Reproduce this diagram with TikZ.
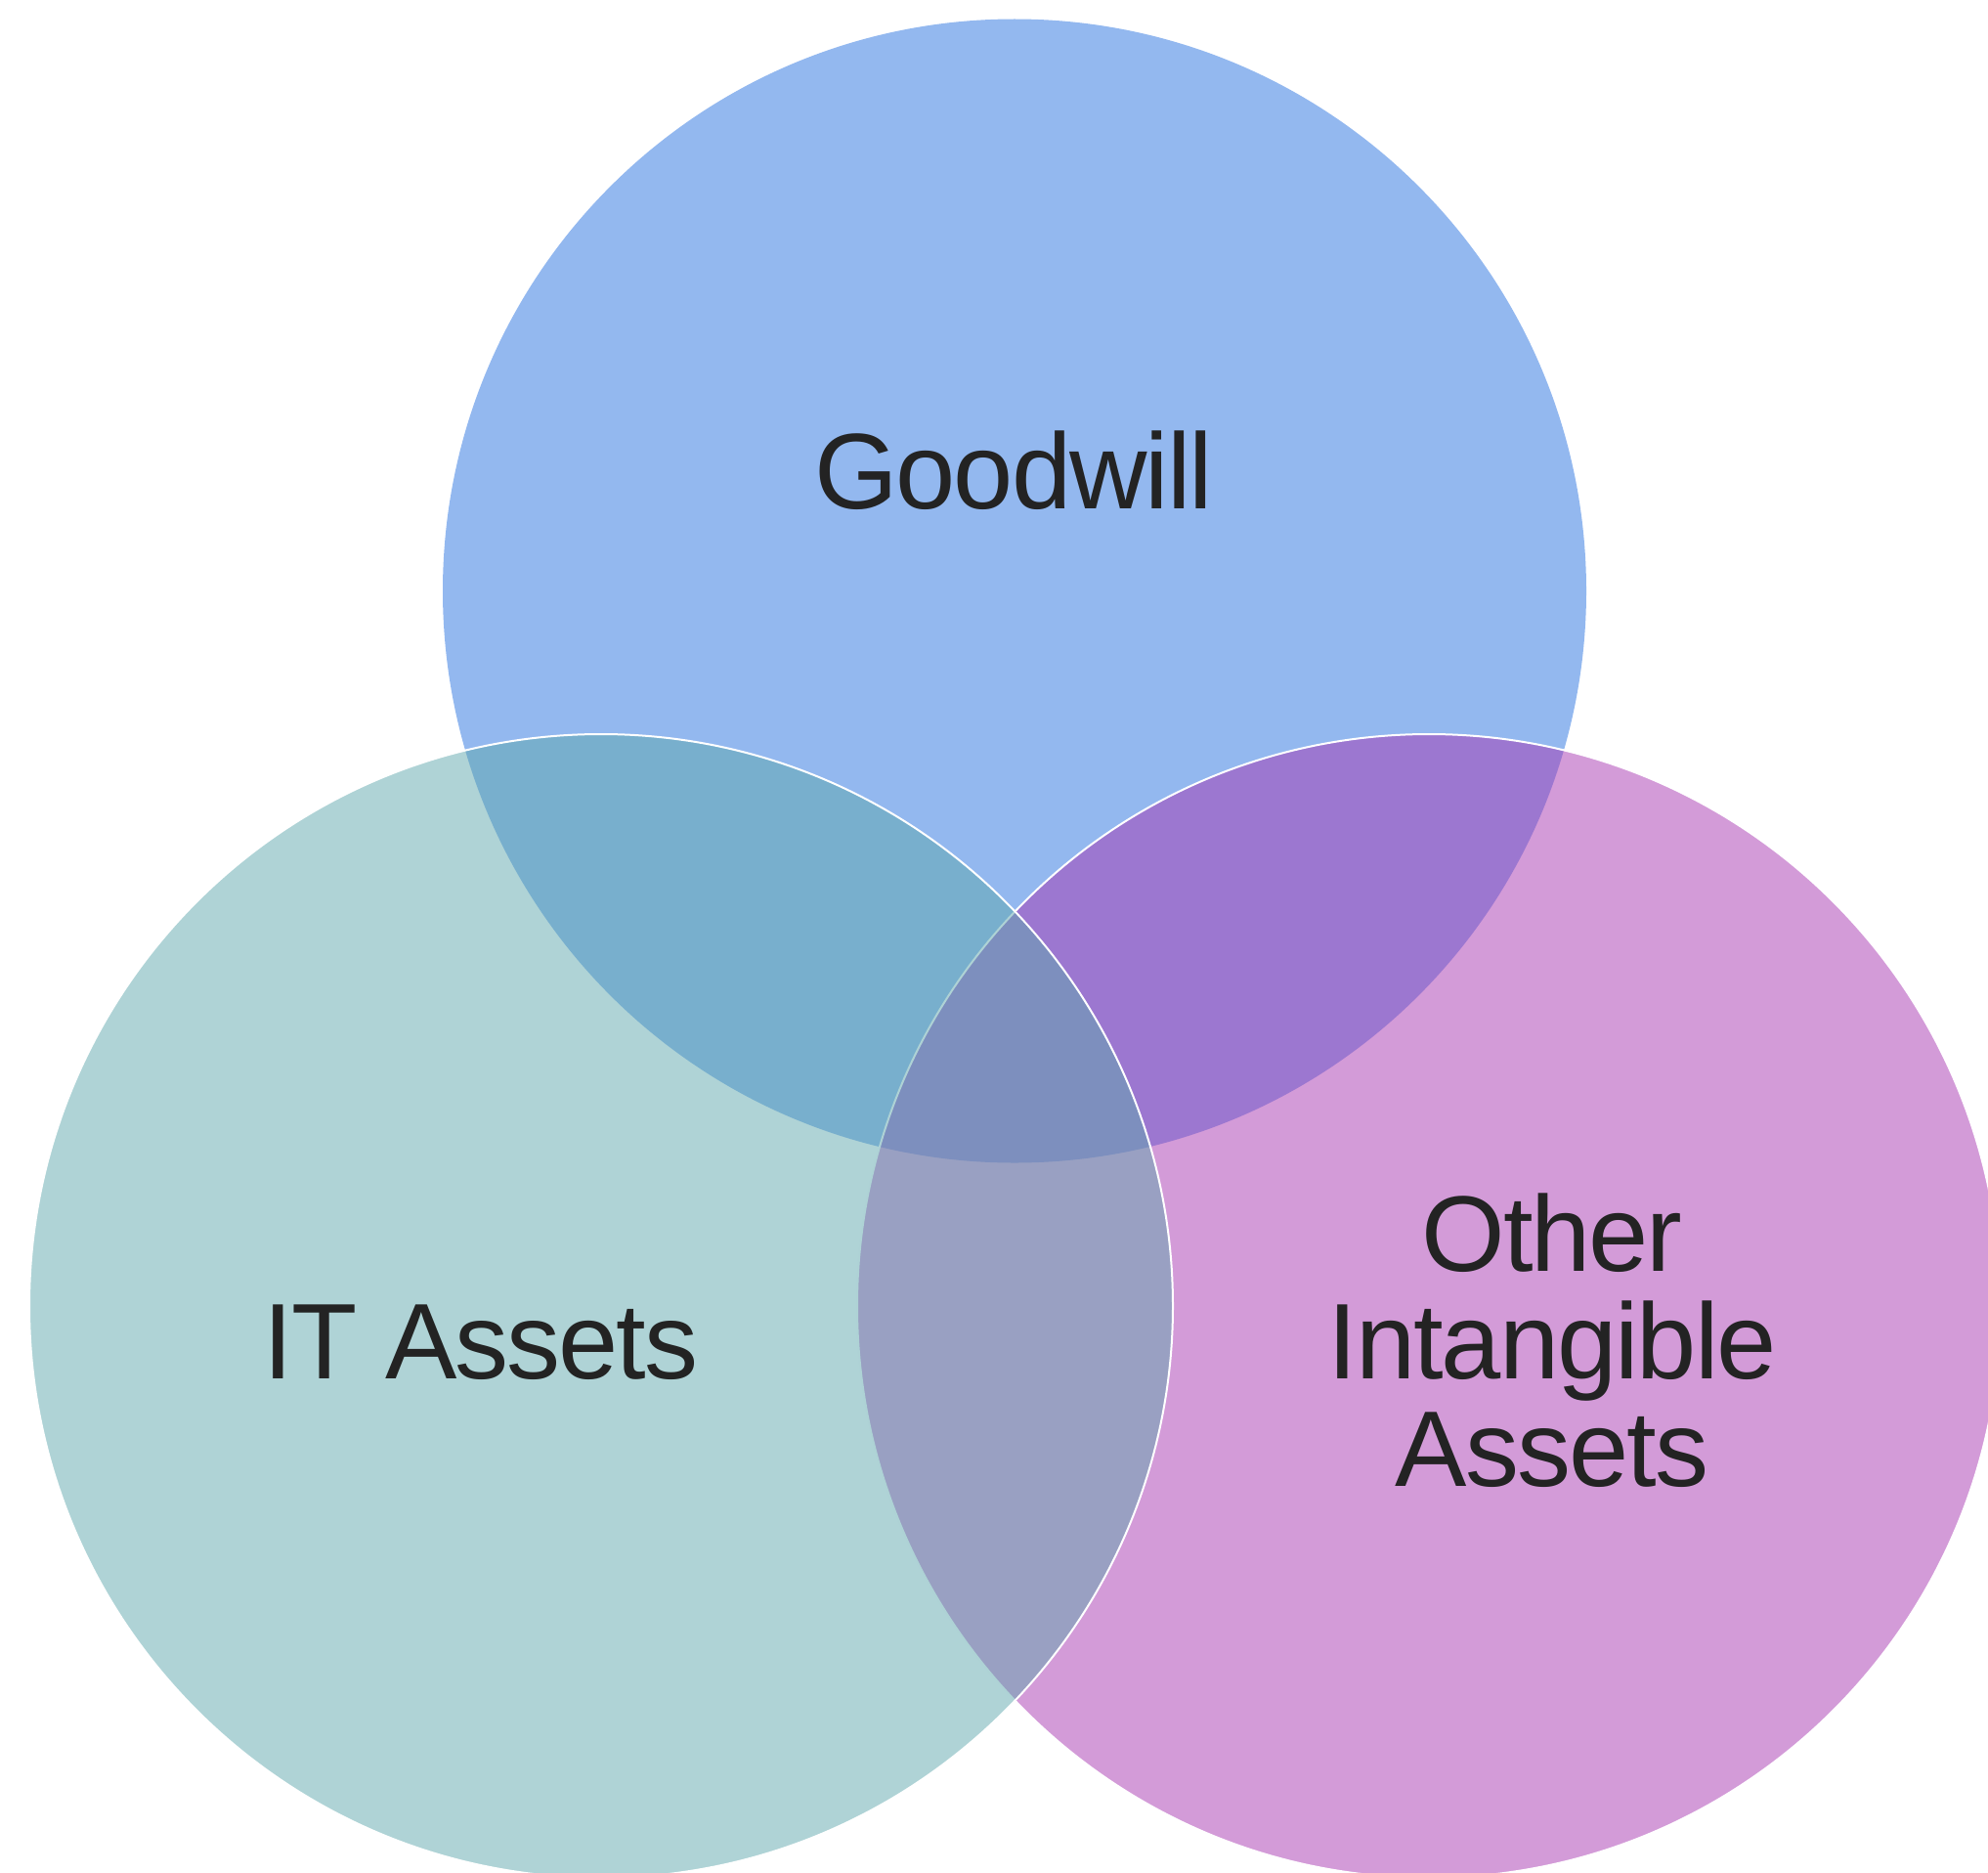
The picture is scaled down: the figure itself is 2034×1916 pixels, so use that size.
\documentclass[tikz,border=0pt]{standalone}
\usepackage{fontspec}
\setmainfont{Liberation Sans}[LetterSpace=-1.8]
\definecolor{goodwillblue}{RGB}{39,113,223}
\definecolor{itteal}{RGB}{95,167,173}
\definecolor{otherpurple}{RGB}{167,55,177}
\definecolor{labeltext}{RGB}{35,35,35}
\begin{document}
\begin{tikzpicture}[x=0.5pt,y=-0.5pt,
  setcircle/.style={circle, inner sep=0pt, outer sep=0pt, minimum size=585pt, fill opacity=0.5},
  rimmed/.style={draw=white, draw opacity=1, line width=1pt},
  setlabel/.style={font=\fontsize{55}{55}\selectfont, text=labeltext, align=center, inner sep=0pt}]
\useasboundingbox (0,0) rectangle (2034,1916);
% the three sets, drawn translucent so that overlaps mix
\node[setcircle, fill=goodwillblue] (goodwill) at (1038,604.5) {};
\node[setcircle, rimmed, fill=otherpurple] (other) at (1462,1336) {};
\node[setcircle, rimmed, fill=itteal] (it) at (615,1336) {};
% labels
\node[setlabel, anchor=base] (goodwilllabel) at (1037,520) {Goodwill};
\node[setlabel, anchor=base] (itlabel) at (492,1410) {IT Assets};
\node[setlabel, anchor=center] (otherlabel) at (1588,1371) {Other\\Intangible\\Assets};
\end{tikzpicture}
\end{document}
